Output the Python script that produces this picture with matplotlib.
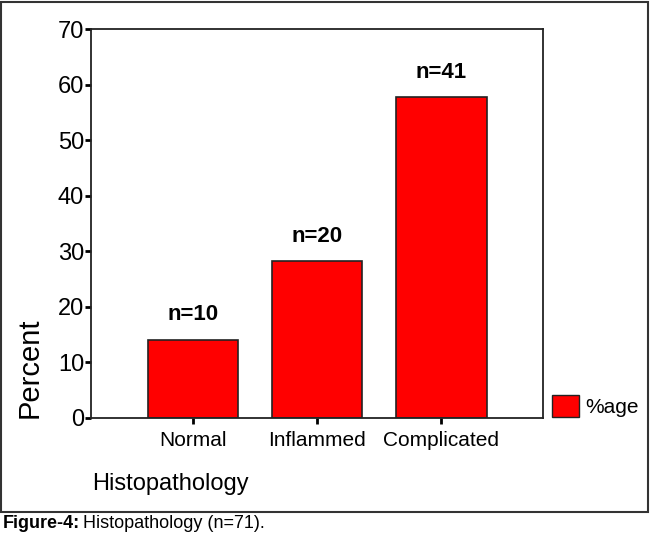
import matplotlib
matplotlib.use("Agg")
import matplotlib.pyplot as plt
from matplotlib.patches import Rectangle, Patch

# Datos del grafico
categorias = ["Normal", "Inflammed", "Complicated"]
conteos = [10, 20, 41]
total = 71
porcentajes = [c / total * 100 for c in conteos]
etiquetas = ["n=%d" % c for c in conteos]
yticks = [0, 10, 20, 30, 40, 50, 60, 70]

plt.rcParams['font.family'] = ['Liberation Sans', 'DejaVu Sans']

fig = plt.figure(figsize=(6.5, 5.4), dpi=100)
ax = fig.add_axes([91 / 650, 1 - 418 / 540, 452 / 650, 389 / 540])

x = list(range(len(categorias)))
ax.bar(x, porcentajes, width=0.73, color='#ff0000', edgecolor='#222222', linewidth=1.2)
for xi, p, t in zip(x, porcentajes, etiquetas):
    ax.text(xi, p + 2.6, t, ha='center', va='bottom', fontsize=16, fontweight='bold')

ax.set_xlim(-0.82, 2.82)
ax.set_ylim(0, 70)
ax.set_yticks(yticks)
ax.set_xticks(x)
ax.set_xticklabels(categorias, fontsize=15)
ax.tick_params(axis='y', labelsize=17, length=4, width=2, pad=1)
ax.tick_params(axis='x', length=4, width=2, pad=5)
for s in ax.spines.values():
    s.set_linewidth(1.3)
    s.set_color('#222222')

# etiquetas de ejes
fig.text(30 / 650, 1 - 368 / 540, 'Percent', rotation=90, ha='center', va='center', fontsize=21)
fig.text(92 / 650, 1 - 484 / 540, 'Histopathology', ha='left', va='center', fontsize=17)

# leyenda
ax.legend(handles=[Patch(facecolor='#ff0000', edgecolor='#222222', label='%age')],
          loc='center left', bbox_to_anchor=(552 / 650, 1 - 406 / 540), bbox_transform=fig.transFigure,
          frameon=False, fontsize=15, handlelength=1.3, handleheight=1.2, handletextpad=0.3,
          borderpad=0, borderaxespad=0)

# marco exterior
fig.patches.append(Rectangle((1 / 650, 1 - 512 / 540), 647 / 650, 510 / 540, transform=fig.transFigure,
                             fill=False, edgecolor='#333333', linewidth=1.5))

# pie de figura
fig.text(3 / 650, 1 - 524 / 540, 'Figure-4:', ha='left', va='center', fontsize=13, fontweight='bold')
fig.text(83 / 650, 1 - 524 / 540, 'Histopathology (n=71).', ha='left', va='center', fontsize=13)

fig.savefig('out.png', dpi=100)
